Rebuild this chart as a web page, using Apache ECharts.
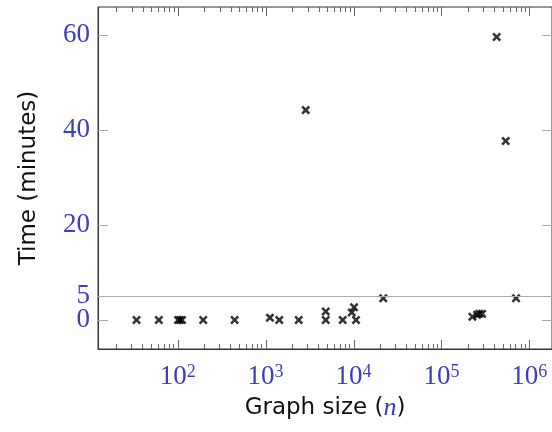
<!DOCTYPE html>
<html>
<head>
<meta charset="utf-8">
<script src="https://cdn.jsdelivr.net/npm/echarts@6/dist/echarts.min.js"></script>
<style>
  html, body { margin: 0; padding: 0; background: #fff; }
  #chart { width: 552px; height: 432px; }
</style>
</head>
<body>
<div id="chart"></div>
<script>
// graph size n and run time in minutes
const sizes = [34, 61, 101, 106, 112, 195, 444, 1120, 1430, 2380, 2860, 4830, 4830, 7530,
  9550, 10140, 10670, 21800, 225000, 255000, 270000, 290000, 425000, 538000, 706000]
const times = [0, 0, 0, 0, 0, 0, 0, 0.5, 0, 0, 44.2, 1.8, 0, 0,
  1.6, 2.7, 0, 4.6, 0.7, 1.1, 1.3, 1.3, 59.6, 37.7, 4.6]

const xMajor = [100, 1000, 10000, 100000, 1000000]
const xMinor = []
for (let d = 10; d <= 1000000; d *= 10) {
  for (let k = 2; k <= 9; k++) xMinor.push(k * d)
}
const yTicks = [0, 20, 40, 60]
const yLabels = [5, 20, 40, 60]
const yLabelZero = [0]
const threshold = 5

const xMin = 12.4, xMax = 1.81e6
const yMin = -6.1, yMax = 65.9

const blue = '#3d3dbd'
const serif = '"Liberation Serif", serif'
const sans = '"DejaVu Sans", sans-serif'
const crossPath = 'path://M2,0 L5,3 L8,0 L10,2 L7,5 L10,8 L8,10 L5,7 L2,10 L0,8 L3,5 L0,2 Z'

const chart = echarts.init(document.getElementById('chart'))

const plotBox = { left: 98, right: 0, top: 7, bottom: 83 }

const xBase = (grid, extra) => Object.assign({
  type: 'log',
  logBase: 10,
  min: xMin,
  max: xMax,
  position: 'bottom',
  gridIndex: grid,
  splitLine: { show: false },
  axisLabel: { show: false },
  axisLine: { show: false, onZero: false },
  axisTick: { show: false }
}, extra)

const yBase = (grid, pos, extra) => Object.assign({
  type: 'value',
  min: yMin,
  max: yMax,
  position: pos,
  gridIndex: grid,
  splitLine: { show: false },
  axisLabel: { show: false },
  axisLine: { show: false, onZero: false },
  axisTick: { show: false }
}, extra)

const tickColor = '#666'
const yTick = { show: true, inside: true, length: 10, customValues: yTicks, lineStyle: { color: '#aaa' } }
const yLabelStyle = { show: true, hideOverlap: false, margin: 8, fontFamily: serif, fontSize: 27, color: blue }

const inRange = v => v >= xMin && v <= xMax
// [value, tick length, also on bottom edge]
const frameTicks = xMajor.filter(inRange).map(v => [v, 9, 1])
  .concat(xMinor.filter(inRange).map(v => [v, 5, 0]))

const renderTick = (params, api) => {
  const v = api.value(0)
  const len = api.value(1)
  const top = api.coord([v, yMax])
  const bot = api.coord([v, yMin])
  const x = Math.round(top[0]) + 0.5
  const style = { stroke: tickColor, lineWidth: 1 }
  const children = [{ type: 'line', shape: { x1: x, y1: top[1], x2: x, y2: top[1] + len }, style }]
  if (api.value(2)) {
    children.push({ type: 'line', shape: { x1: x, y1: bot[1], x2: x, y2: bot[1] - len }, style })
  }
  return { type: 'group', children }
}

const option = {
  animation: false,
  grid: [
    Object.assign({ show: true, borderColor: '#333', borderWidth: 1, backgroundColor: 'transparent' }, plotBox),
    Object.assign({}, plotBox)
  ],
  xAxis: [
    xBase(0, {
      axisLine: { show: true, onZero: false, lineStyle: { color: '#333', width: 1 } },
      axisLabel: {
        show: true,
        customValues: xMajor,
        hideOverlap: false,
        margin: 14,
        formatter: v => '{b|10}{s|' + Math.round(Math.log10(v)) + '}',
        rich: {
          b: { fontFamily: serif, fontSize: 27, color: blue },
          s: { fontFamily: serif, fontSize: 18, color: blue, verticalAlign: 'top' }
        }
      },
      name: 'Graph size ({n|n})',
      nameLocation: 'middle',
      nameGap: 46,
      nameTextStyle: {
        fontFamily: sans, fontSize: 23, color: '#111',
        rich: { n: { fontFamily: serif, fontStyle: 'italic', fontSize: 26, color: blue } }
      }
    }),
    xBase(1, { axisTick: { show: true, inside: true, length: 5, customValues: xMinor, lineStyle: { color: tickColor, width: 1 } } })
  ],
  yAxis: [
    yBase(0, 'left', {
      axisLine: { show: true, onZero: false, lineStyle: { color: '#333', width: 1 } },
      axisTick: yTick,
      axisLabel: Object.assign({ customValues: yLabels }, yLabelStyle),
      name: 'Time (minutes)',
      nameLocation: 'middle',
      nameGap: 57,
      nameTextStyle: { fontFamily: sans, fontSize: 23, color: '#111' }
    }),
    yBase(0, 'right', { axisTick: yTick }),
    yBase(1, 'left', { axisLabel: Object.assign({ customValues: yLabelZero, showMinLabel: true }, yLabelStyle) })
  ],
  series: [
    {
      type: 'custom',
      xAxisIndex: 0,
      yAxisIndex: 0,
      silent: true,
      clip: false,
      encode: { x: 0, y: 1 },
      renderItem: renderTick,
      data: frameTicks,
      z: 1
    },
    {
      type: 'scatter',
      xAxisIndex: 0,
      yAxisIndex: 0,
      symbol: crossPath,
      symbolSize: 9,
      itemStyle: { color: '#000' },
      data: sizes.map((n, i) => [n, times[i]]),
      markLine: {
        silent: true,
        symbol: 'none',
        label: { show: false },
        lineStyle: { color: '#aaa', width: 1, type: 'solid' },
        data: [{ yAxis: threshold }]
      },
      z: 3
    }
  ]
}

chart.setOption(option)
</script>
</body>
</html>
